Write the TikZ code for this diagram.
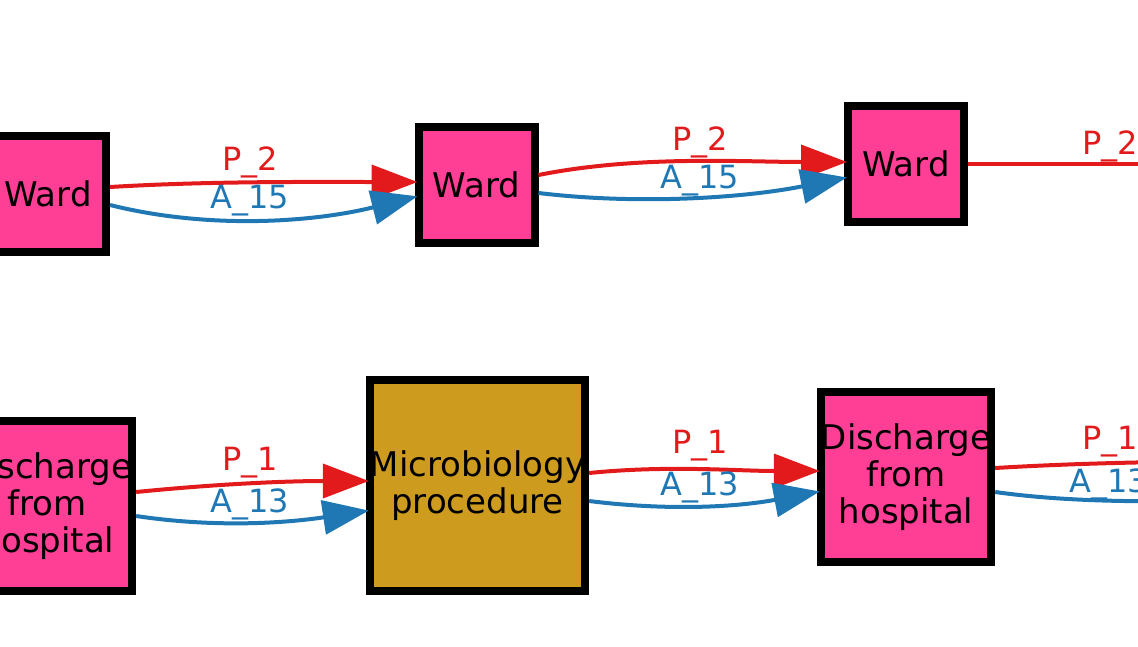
\documentclass[tikz,border=0pt]{standalone}
\usepackage{fontspec}
\setmainfont{DejaVu Sans}
\usetikzlibrary{arrows.meta}
\definecolor{wardpink}{HTML}{FF3E96}
\definecolor{procgold}{HTML}{CD9B1D}
\definecolor{pathred}{HTML}{E31A1C}
\definecolor{pathblue}{HTML}{1F78B4}
\begin{document}
\begin{tikzpicture}[x=1pt, y=-1pt,
	box/.style={draw=black, line width=8pt, fill=wardpink, inner sep=0pt, align=center, font=\fontsize{34}{37}\selectfont},
	redge/.style={draw=pathred, line width=4pt, shorten >=-3pt, -{Triangle[length=46pt,width=34pt]}},
	bedge/.style={draw=pathblue, line width=4pt, shorten >=-3pt, -{Triangle[length=46pt,width=34pt]}},
	rlab/.style={text=pathred, anchor=base, inner sep=0pt, font=\fontsize{32}{37}\selectfont},
	blab/.style={text=pathblue, anchor=base, inner sep=0pt, font=\fontsize{32}{37}\selectfont}]
			\clip (0,0) rectangle (1138,646);
			
			% top row
			\node (ward1) at (48,194) [box, minimum size=116pt]{Ward};
			\node (ward2) at (476.5,185) [box, minimum size=116pt]{Ward};
			\node (ward3) at (906,164) [box, minimum size=116pt]{Ward};
			\coordinate (wardout) at (1300,164);
			
			% bottom row
			\node (dis1) at (47,506) [box, minimum size=170pt]{Discharge\\from\\hospital};
			\node (micro) at (477.5,485.5) [box, fill=procgold, minimum size=211pt]{Microbiology\\procedure};
			\node (dis2) at (906,477) [box, minimum size=170pt]{Discharge\\from\\hospital};
			\coordinate (disoutp) at (1300,461);
			\coordinate (disouta) at (1300,500);
			
			\draw[redge] ([yshift=7pt]ward1.east) .. controls +(100,-6) and +(-100,0) .. ([yshift=3pt]ward2.west);
			\draw[bedge] ([yshift=-11pt]ward1.east) .. controls +(100,25) and +(-100,25) .. ([yshift=-12pt]ward2.west);
			\draw[redge] ([yshift=10pt]ward2.east) .. controls +(100,-20) and +(-100,0) .. ([yshift=2pt]ward3.west);
			\draw[bedge] ([yshift=-8pt]ward2.east) .. controls +(100,12) and +(-100,20) .. ([yshift=-14pt]ward3.west);
			\draw[draw=pathred, line width=4pt] (ward3.east) -- (wardout);
			
			\draw[redge] ([yshift=14pt]dis1.east) .. controls +(80,-8) and +(-80,0) .. ([yshift=4.5pt]micro.west);
			\draw[bedge] ([yshift=-10pt]dis1.east) .. controls +(80,12) and +(-80,12) .. ([yshift=-25.5pt]micro.west);
			\draw[redge] ([yshift=12.5pt]micro.east) .. controls +(80,-8) and +(-80,0) .. ([yshift=6pt]dis2.west);
			\draw[bedge] ([yshift=-15.5pt]micro.east) .. controls +(80,10) and +(-80,15) .. ([yshift=-15pt]dis2.west);
			\draw[draw=pathred, line width=4pt] ([yshift=9pt]dis2.east) .. controls +(100,-6) and +(-100,0) .. (disoutp);
			\draw[draw=pathblue, line width=4pt] ([yshift=-15pt]dis2.east) .. controls +(100,14) and +(-100,0) .. (disouta);
			
			% edge labels
			\node (lp1) at (250,170) [rlab]{P\_2};
			\node (la1) at (250,208) [blab]{A\_15};
			\node (lp2) at (700,150) [rlab]{P\_2};
			\node (la2) at (700,188) [blab]{A\_15};
			\node (lp3) at (1110,154) [rlab]{P\_2};
			\node (lp4) at (250,470) [rlab]{P\_1};
			\node (la4) at (250,512) [blab]{A\_13};
			\node (lp5) at (700,453) [rlab]{P\_1};
			\node (la5) at (700,495) [blab]{A\_13};
			\node (lp6) at (1110,449) [rlab]{P\_1};
			\node (la6) at (1109,492) [blab]{A\_13};
		\end{tikzpicture}
\end{document}
